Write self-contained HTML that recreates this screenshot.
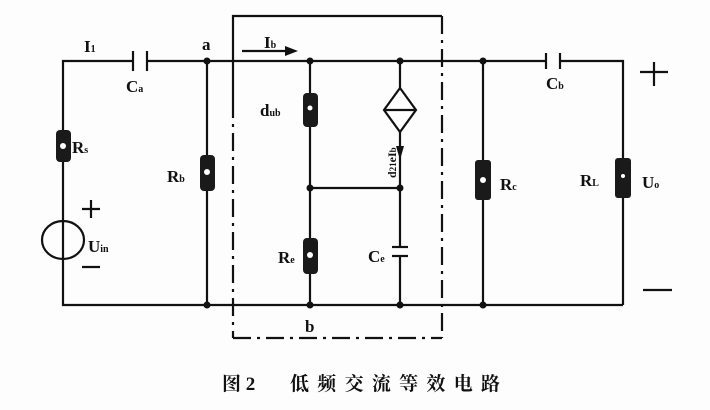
<!DOCTYPE html>
<html><head><meta charset="utf-8"><style>
html,body{margin:0;padding:0;background:#fff;}
svg{display:block;}
text{font-family:"Liberation Serif","Noto Serif CJK SC",serif;font-weight:bold;fill:#111;}
</style></head><body>
<svg width="710" height="410" viewBox="0 0 710 410" xmlns="http://www.w3.org/2000/svg">
<rect width="710" height="410" fill="#fdfdfd"/>
<g stroke="#111" stroke-width="2.2" fill="none">
<!-- left loop -->
<polyline points="133,61 63,61 63,305 623,305"/>
<line x1="147" y1="61" x2="546" y2="61"/>
<line x1="133" y1="51" x2="133" y2="71"/>
<line x1="147" y1="51" x2="147" y2="71"/>
<line x1="207" y1="61" x2="207" y2="305"/>
<line x1="310" y1="61" x2="310" y2="305"/>
<line x1="310" y1="188" x2="400" y2="188"/>
<line x1="400" y1="61" x2="400" y2="247"/>
<line x1="400" y1="256" x2="400" y2="305"/>
<line x1="392" y1="247" x2="408" y2="247"/>
<line x1="392" y1="256" x2="408" y2="256"/>
<line x1="483" y1="61" x2="483" y2="305"/>
<polyline points="560,61 623,61 623,305"/>
<line x1="546" y1="53" x2="546" y2="69"/>
<line x1="560" y1="53" x2="560" y2="69"/>
<!-- source -->
<ellipse cx="63" cy="240" rx="21" ry="19"/>
<!-- diamond -->
<polygon points="400,88 416,110 400,132 384,110" fill="#fff"/>
<line x1="384" y1="110" x2="416" y2="110"/>
<!-- box -->
<polyline points="233,100 233,16 442,16" />
<line x1="233" y1="100" x2="233" y2="338" stroke-dasharray="18,6,3,6"/>
<line x1="442" y1="16" x2="442" y2="338" stroke-dasharray="18,6,3,6"/>
<line x1="233" y1="338" x2="442" y2="338" stroke-dasharray="18,6,3,6"/>
<!-- Ib arrow -->
<line x1="242" y1="51" x2="290" y2="51"/>
<!-- plus/minus -->
<line x1="82" y1="209" x2="100" y2="209"/><line x1="91" y1="200" x2="91" y2="218"/>
<line x1="82" y1="267" x2="100" y2="267"/>
<line x1="640" y1="72" x2="668" y2="72"/><line x1="654" y1="62" x2="654" y2="86"/>
<line x1="643" y1="290" x2="672" y2="290"/>
</g>
<polygon points="285,46 298,51 285,56" fill="#111"/>
<polygon points="396,146 404,146 400,160" fill="#111"/>
<!-- nodes -->
<g fill="#111">
<circle cx="207" cy="61" r="3.5"/><circle cx="310" cy="61" r="3.5"/><circle cx="400" cy="61" r="3.5"/><circle cx="483" cy="61" r="3.5"/>
<circle cx="207" cy="305" r="3.5"/><circle cx="310" cy="305" r="3.5"/><circle cx="400" cy="305" r="3.5"/><circle cx="483" cy="305" r="3.5"/>
<circle cx="310" cy="188" r="3.5"/><circle cx="400" cy="188" r="3.5"/>
</g>
<!-- resistors (blobs) -->
<g fill="#1a1a1a">
<rect x="56" y="130" width="15" height="32" rx="4"/>
<rect x="200" y="155" width="15" height="36" rx="4"/>
<rect x="303" y="93" width="15" height="34" rx="4"/>
<rect x="303" y="238" width="15" height="36" rx="4"/>
<rect x="475" y="160" width="16" height="40" rx="3"/>
<rect x="615" y="158" width="16" height="40" rx="3"/>
</g>
<g fill="#fff">
<circle cx="63" cy="146" r="3"/><circle cx="207" cy="172" r="3"/><circle cx="310" cy="108" r="2.5"/><circle cx="310" cy="255" r="3"/><circle cx="483" cy="180" r="3"/><circle cx="623" cy="176" r="2"/>
</g>
<!-- labels -->
<g font-size="17">
<text x="84" y="52">I<tspan font-size="10">1</tspan></text>
<text x="126" y="92">C<tspan font-size="10">a</tspan></text>
<text x="202" y="50">a</text>
<text x="264" y="48">I<tspan font-size="10">b</tspan></text>
<text x="72" y="153">R<tspan font-size="10">s</tspan></text>
<text x="167" y="182">R<tspan font-size="10">b</tspan></text>
<text x="260" y="116">d<tspan font-size="10">ub</tspan></text>
<text x="278" y="263">R<tspan font-size="10">e</tspan></text>
<text x="88" y="252">U<tspan font-size="10">in</tspan></text>
<text x="305" y="332">b</text>
<text x="368" y="262">C<tspan font-size="10">e</tspan></text>
<text x="500" y="190">R<tspan font-size="10">c</tspan></text>
<text x="546" y="89">C<tspan font-size="10">b</tspan></text>
<text x="580" y="186">R<tspan font-size="10">L</tspan></text>
<text x="642" y="188">U<tspan font-size="10">o</tspan></text>
<text x="0" y="0" font-size="12" transform="translate(396,178) rotate(-90)">d<tspan font-size="9">21</tspan>eI<tspan font-size="9">b</tspan></text>
</g>
<text x="222" y="390" font-size="19" font-family="'Noto Sans CJK SC',sans-serif">图 2</text>
<text x="290" y="390" font-size="19" font-family="'Noto Sans CJK SC',sans-serif" textLength="210" lengthAdjust="spacing">低频交流等效电路</text>
</svg>
</body></html>
